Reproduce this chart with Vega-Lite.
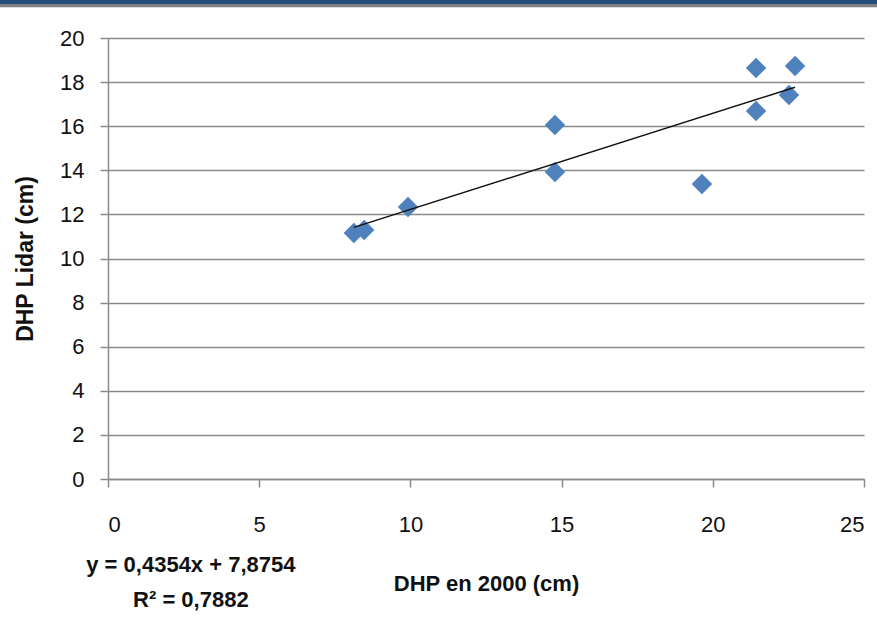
{
  "$schema": "https://vega.github.io/schema/vega-lite/v6.json",
  "width": 756,
  "height": 441,
  "autosize": {"type": "none"},
  "padding": {"left": 108, "top": 38, "right": 13, "bottom": 153},
  "background": "white",
  "config": {
    "view": {"stroke": null},
    "font": "Liberation Sans",
    "axis": {
      "labelFont": "Liberation Sans",
      "labelFontSize": 22,
      "labelColor": "#111111",
      "titleFont": "Liberation Sans",
      "titleFontSize": 22,
      "titleFontWeight": "bold",
      "titleColor": "#111111",
      "domainColor": "#8a8a8a",
      "domainWidth": 1.5,
      "tickColor": "#8a8a8a",
      "tickWidth": 1.5,
      "tickSize": 8,
      "gridColor": "#8a8a8a",
      "gridWidth": 1.5
    }
  },
  "datasets": {
    "pts": [
      {"dhp2000": 8.13, "lidar": 11.16},
      {"dhp2000": 8.47, "lidar": 11.29},
      {"dhp2000": 9.92, "lidar": 12.34},
      {"dhp2000": 14.78, "lidar": 16.05},
      {"dhp2000": 14.78, "lidar": 13.92},
      {"dhp2000": 19.64, "lidar": 13.38},
      {"dhp2000": 21.43, "lidar": 18.64},
      {"dhp2000": 21.43, "lidar": 16.69},
      {"dhp2000": 22.52, "lidar": 17.41},
      {"dhp2000": 22.72, "lidar": 18.73}
    ],
    "trend": [
      {"dhp2000": 8.13, "lidar": 11.41},
      {"dhp2000": 22.72, "lidar": 17.77}
    ]
  },
  "layer": [
    {
      "data": {"values": [{}]},
      "mark": {"type": "rule", "color": "#808080", "strokeWidth": 4, "clip": false},
      "encoding": {
        "x": {"datum": -3.6, "type": "quantitative", "scale": {"domain": [0, 25], "nice": false}},
        "x2": {"datum": 25.5},
        "y": {"datum": 21.49, "type": "quantitative", "scale": {"domain": [0, 20], "nice": false}}
      }
    },
    {
      "data": {"values": [{}]},
      "mark": {"type": "rule", "color": "#234d7c", "strokeWidth": 4.5, "clip": false},
      "encoding": {
        "x": {"datum": -3.6, "type": "quantitative"},
        "x2": {"datum": 25.5},
        "y": {"datum": 21.64, "type": "quantitative"}
      }
    },
    {
      "data": {"name": "pts"},
      "mark": {"type": "point", "shape": "diamond", "filled": true, "color": "#4f81bd", "size": 420, "opacity": 1},
      "encoding": {
        "x": {
          "field": "dhp2000", "type": "quantitative",
          "scale": {"domain": [0, 25], "nice": false},
          "axis": {
            "title": "DHP en 2000 (cm)",
            "values": [0, 5, 10, 15, 20, 25],
            "grid": false,
            "labelPadding": 27,
            "titleY": 104,
            "titleBaseline": "middle"
          }
        },
        "y": {
          "field": "lidar", "type": "quantitative",
          "scale": {"domain": [0, 20], "nice": false},
          "axis": {
            "title": "DHP Lidar (cm)",
            "titleFontSize": 23,
            "values": [0, 2, 4, 6, 8, 10, 12, 14, 16, 18, 20],
            "grid": true,
            "labelPadding": 16,
            "titleX": -83,
            "titleBaseline": "middle"
          }
        }
      }
    },
    {
      "data": {"name": "trend"},
      "mark": {"type": "line", "color": "#111111", "strokeWidth": 1.5},
      "encoding": {
        "x": {"field": "dhp2000", "type": "quantitative"},
        "y": {"field": "lidar", "type": "quantitative"}
      }
    },
    {
      "data": {"values": [{}]},
      "mark": {
        "type": "text",
        "text": ["y = 0,4354x + 7,8754", "R² = 0,7882"],
        "lineHeight": 35,
        "align": "center",
        "baseline": "top",
        "font": "Liberation Sans",
        "fontSize": 22,
        "fontWeight": "bold",
        "color": "#111111",
        "clip": false
      },
      "encoding": {
        "x": {"datum": 2.74, "type": "quantitative"},
        "y": {"datum": -3.43, "type": "quantitative"}
      }
    }
  ]
}
